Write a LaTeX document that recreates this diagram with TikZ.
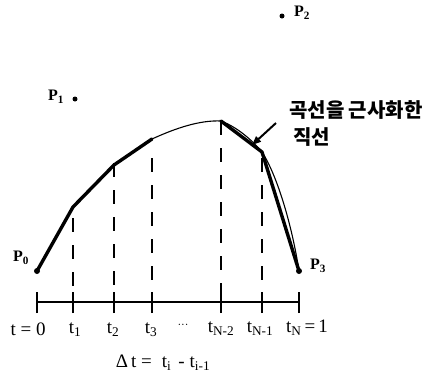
\documentclass[tikz,border=0pt]{standalone}
\usepackage{fontspec}
\setmainfont{Liberation Serif}
\newfontfamily\kr{Noto Sans CJK KR}
\usetikzlibrary{arrows.meta}
\begin{document}
\begin{tikzpicture}[x=1pt,y=-1pt,
  poly/.style={line width=3.4pt,line join=round,line cap=round},
  curv/.style={line width=1.1pt},
  dline/.style={line width=2pt,dash pattern=on 14pt off 13pt},
  axisline/.style={line width=2pt},
  tick/.style={line width=2pt},
  dot/.style={circle,fill=black,inner sep=0pt,minimum size=#1},
  lab/.style={font=\fontsize{19}{21}\selectfont,inner sep=0pt},
  plab/.style={font=\fontsize{16}{18}\selectfont\bfseries,inner sep=0pt},
  krlab/.style={font=\kr\bfseries\fontsize{20}{22}\selectfont,inner sep=0pt,anchor=west}]
\useasboundingbox (0,0) rectangle (437,373);
% control points
\node[dot=6pt] (p0) at (37,271) {};
\node[dot=5pt] (p1) at (75,99) {};
\node[dot=5pt] (p2) at (282,16) {};
\node[dot=6pt] (p3) at (299,271) {};
\node[plab] (lp0) at (21,258) {P\textsubscript{0}};
\node[plab] (lp1) at (56,97) {P\textsubscript{1}};
\node[plab] (lp2) at (302,13) {P\textsubscript{2}};
\node[plab] (lp3) at (318,266) {P\textsubscript{3}};
% curve vertices
\coordinate (v0) at (37,271);
\coordinate (v1) at (73,207);
\coordinate (v2) at (114,165);
\coordinate (v3) at (152,139);
\coordinate (v4) at (221,121);
\coordinate (v5) at (262,152);
\coordinate (v6) at (299,271);
% thin curve
\draw[curv] (v0) -- (v1) -- (v2) -- (v3)
  .. controls (176,128) and (200,120) .. (v4)
  .. controls (237,127) and (252,140) .. (v5)
  .. controls (277,175) and (292,225) .. (v6);
% thick polyline
\draw[poly] (v0) -- (v1) -- (v2) -- (v3);
\draw[poly] (v4) -- (v5) -- (v6);
% axis
\coordinate (a0) at (37,302);
\coordinate (a1) at (73,302);
\coordinate (a2) at (114,302);
\coordinate (a3) at (152,302);
\coordinate (a4) at (221,302);
\coordinate (a5) at (262,302);
\coordinate (a6) at (299,302);
\draw[axisline] (a0) -- (a6);
\foreach \i in {0,...,6} {\draw[tick] ([yshift=-11pt]a\i) -- ([yshift=10pt]a\i);}
% dashed verticals
\draw[dline] (73,218) -- ([yshift=-11pt]a1);
\draw[dline] (114,163) -- ([yshift=-11pt]a2);
\draw[dline] (152,158) -- ([yshift=-11pt]a3);
\draw[dline] (221,121) -- ([yshift=-11pt]a4);
\draw[dline] (262,158) -- ([yshift=-11pt]a5);
% tick labels
\node[lab] (l0) at (28,329) {t = 0};
\node[lab] (l1) at (75,330) {t\textsubscript{1}};
\node[lab] (l2) at (113,330) {t\textsubscript{2}};
\node[lab] (l3) at (151,330) {t\textsubscript{3}};
\node[lab] (ldots) at (183,326) {\fontsize{11}{11}\selectfont ···};
\node[lab] (l4) at (221,329) {t\textsubscript{N-2}};
\node[lab] (l5) at (260,329) {t\textsubscript{N-1}};
\node[lab] (l6) at (307,328) {t\textsubscript{N}\,=\,1};
\node[lab] (dt) at (163,363) {Δ\,t =\hspace{10pt}t\textsubscript{i}\hspace{7pt}-\hspace{5pt}t\textsubscript{i-1}};
% annotation
\node[krlab] (k1) at (289,110) {곡선을 근사화한};
\node[krlab] (k2) at (293,137) {직선};
\coordinate (arrs) at (276,123);
\coordinate (arre) at (252,145);
\draw[line width=2pt,-{Triangle[length=9pt,width=7pt]}] (arrs) -- (arre);
\end{tikzpicture}
\end{document}
